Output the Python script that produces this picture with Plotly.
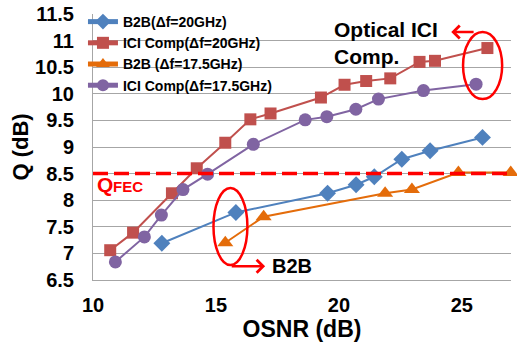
import plotly.graph_objects as go

# ---- data ----
ici20_x = [10.7, 11.63, 13.21, 14.22, 15.38, 16.4, 17.22, 19.27, 20.23, 21.11, 22.09, 23.28, 23.91, 26.04]
ici20_y = [7.06, 7.39, 8.13, 8.6, 9.08, 9.52, 9.63, 9.93, 10.17, 10.24, 10.29, 10.6, 10.62, 10.86]

ici175_x = [10.91, 12.09, 12.78, 13.66, 14.66, 16.52, 18.63, 19.51, 20.69, 21.61, 23.44, 25.58]
ici175_y = [6.84, 7.31, 7.72, 8.2, 8.49, 9.05, 9.51, 9.57, 9.71, 9.9, 10.06, 10.18]

b2b20_x = [12.8, 15.81, 19.54, 20.7, 21.44, 22.56, 23.71, 25.84]
b2b20_y = [7.19, 7.77, 8.13, 8.29, 8.44, 8.77, 8.93, 9.18]

b2b175_x = [15.38, 16.94, 21.88, 22.97, 24.86, 26.99]
b2b175_y = [7.2, 7.69, 8.13, 8.2, 8.52, 8.52]

q_fec = 8.5
x_ticks = [10, 15, 20, 25]
y_ticks = [6.5, 7, 7.5, 8, 8.5, 9, 9.5, 10, 10.5, 11, 11.5]

FONT = "Arial, Liberation Sans, sans-serif"
BLUE = "#4F81BD"
RED = "#C0504D"
ORANGE = "#E46C0A"
PURPLE = "#8064A2"

fig = go.Figure()
fig.add_trace(go.Scatter(x=b2b20_x, y=b2b20_y, mode="lines+markers", name="B2B(Δf=20GHz)", cliponaxis=False,
                         line=dict(color=BLUE, width=2), marker=dict(symbol="diamond", size=13, color=BLUE)))
fig.add_trace(go.Scatter(x=ici20_x, y=ici20_y, mode="lines+markers", name="ICI Comp(Δf=20GHz)", cliponaxis=False,
                         line=dict(color=RED, width=2), marker=dict(symbol="square", size=12, color=RED)))
fig.add_trace(go.Scatter(x=b2b175_x, y=b2b175_y, mode="lines+markers", name="B2B (Δf=17.5GHz)", cliponaxis=False,
                         line=dict(color=ORANGE, width=2), marker=dict(symbol="triangle-up", size=14, color=ORANGE)))
fig.add_trace(go.Scatter(x=ici175_x, y=ici175_y, mode="lines+markers", name="ICI Comp(Δf=17.5GHz)", cliponaxis=False,
                         line=dict(color=PURPLE, width=2), marker=dict(symbol="circle", size=13, color=PURPLE)))

# Q_FEC threshold line
fig.add_shape(type="line", xref="x domain", yref="y", x0=0, x1=1, y0=q_fec, y1=q_fec,
              line=dict(color="#FF0000", width=3.5, dash="15px,6px"))

# ellipses
fig.add_shape(type="circle", xref="x", yref="y", x0=25.05, x1=26.64, y0=9.9, y1=11.16,
              line=dict(color="#FF0000", width=2.5))
fig.add_shape(type="circle", xref="x", yref="y", x0=14.9, x1=16.28, y0=6.78, y1=8.23,
              line=dict(color="#FF0000", width=2.5))

# arrows
fig.add_annotation(x=24.57, y=11.16, ax=25.54, ay=11.16, xref="x", yref="y", axref="x", ayref="y",
                   text="", showarrow=True, arrowhead=4, arrowsize=1, arrowwidth=2.5, arrowcolor="#FF0000")
fig.add_annotation(x=17.0, y=6.76, ax=15.58, ay=6.76, xref="x", yref="y", axref="x", ayref="y",
                   text="", showarrow=True, arrowhead=4, arrowsize=1, arrowwidth=2.5, arrowcolor="#FF0000")

# texts
fig.add_annotation(x=19.72, y=11.47, xref="x", yref="y", xanchor="left", yanchor="top", align="left",
                   text="Optical ICI<br>Comp.", showarrow=False,
                   font=dict(family=FONT, size=21, color="black", weight="bold"))
fig.add_annotation(x=17.2, y=6.76, xref="x", yref="y", xanchor="left", yanchor="middle",
                   text="B2B", showarrow=False,
                   font=dict(family=FONT, size=20, color="black", weight="bold"))
fig.add_annotation(x=10.1, y=8.3, xref="x", yref="y", xanchor="left", yanchor="middle",
                   text="Q", showarrow=False,
                   font=dict(family=FONT, size=21, color="#FF0000", weight="bold"))
fig.add_annotation(x=10.74, y=8.26, xref="x", yref="y", xanchor="left", yanchor="middle",
                   text="FEC", showarrow=False,
                   font=dict(family=FONT, size=15, color="#FF0000", weight="bold"))

fig.update_layout(
    width=517, height=347,
    margin=dict(l=93, r=6, t=14, b=67, autoexpand=False),
    paper_bgcolor="white", plot_bgcolor="white",
    font=dict(family=FONT, color="black"),
    showlegend=True,
    legend=dict(x=-0.024, y=1.03, xanchor="left", yanchor="top", bgcolor="rgba(0,0,0,0)",
                font=dict(family=FONT, size=14, color="black", weight="bold"),
                itemwidth=30, tracegroupgap=0, itemsizing="constant"),
)
fig.update_xaxes(range=[10, 27], tickvals=x_ticks, showgrid=False, zeroline=False, automargin=False,
                 showline=True, linecolor="#A6A6A6", linewidth=1,
                 tickfont=dict(family=FONT, size=20, color="black", weight="bold"),
                 ticklabelstandoff=7,
                 title=dict(text="OSNR (dB)", font=dict(family=FONT, size=23, color="black", weight="bold"),
                            standoff=2))
fig.update_yaxes(range=[6.5, 11.5], tickvals=y_ticks, showgrid=True, gridcolor="#A6A6A6", gridwidth=1,
                 zeroline=False, showline=True, linecolor="#A6A6A6", linewidth=1, automargin=False,
                 tickfont=dict(family=FONT, size=20, color="black", weight="bold"),
                 ticklabelstandoff=14,
                 title=dict(text="Q (dB)", font=dict(family=FONT, size=22, color="black", weight="bold"),
                            standoff=0))

fig.write_html("out.html", config={"displayModeBar": False},
               post_script="document.body.style.margin='0px';")
